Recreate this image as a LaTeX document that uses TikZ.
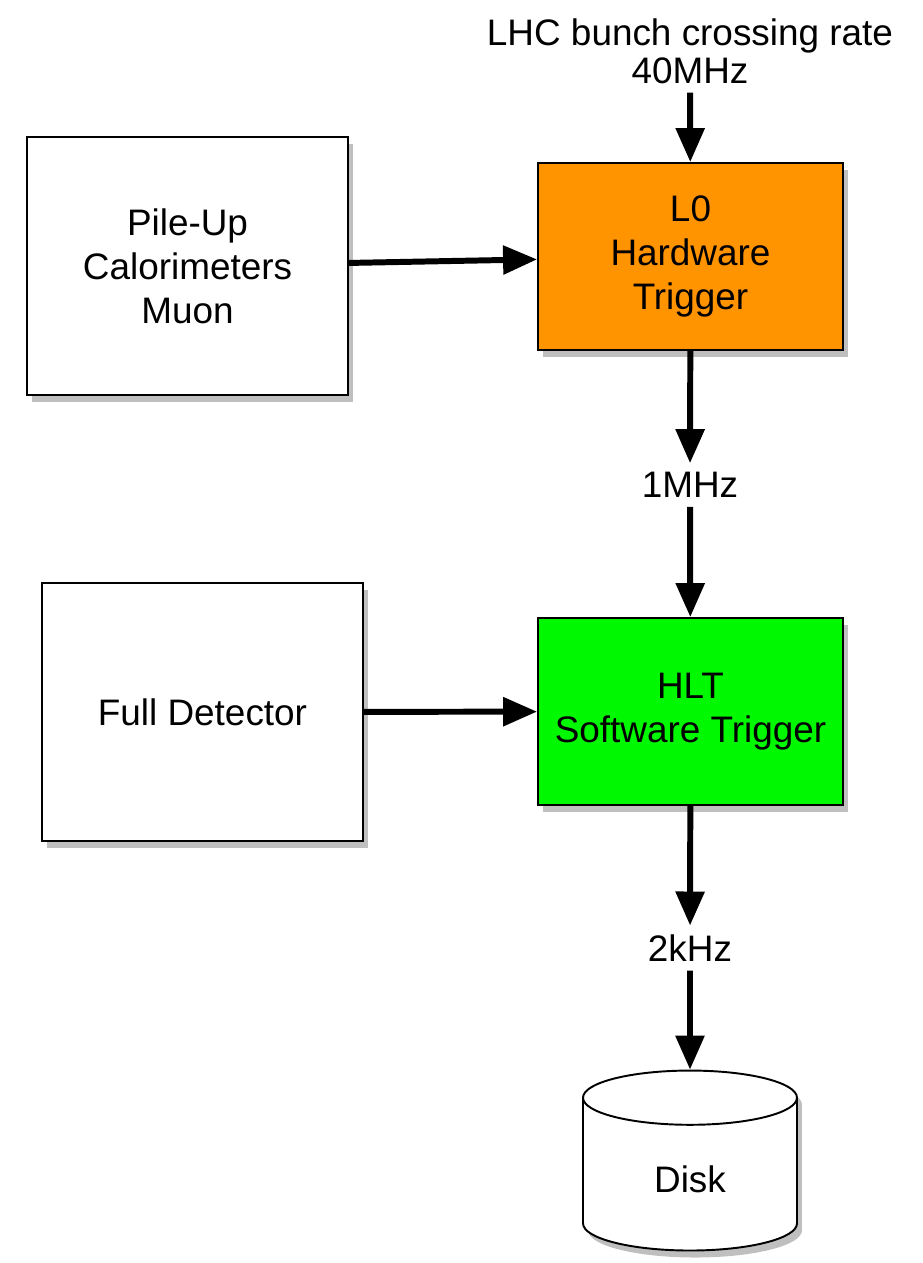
\documentclass[tikz,border=0pt]{standalone}
\usepackage{fontspec}
\setmainfont{Liberation Sans}
\usetikzlibrary{shapes,arrows.meta,shadows}
\definecolor{lzeroorange}{RGB}{255,147,0}
\definecolor{hltgreen}{RGB}{0,249,0}
\tikzstyle{block} = [rectangle, draw, line width=1.1pt, align=center,
    font=\fontsize{21}{25}\selectfont,
    drop shadow={opacity=0.5, shadow xshift=0.1cm, shadow yshift=-0.14cm}]
\tikzstyle{trigger} = [block, minimum width=6.1cm, minimum height=3.74cm]
\tikzstyle{source} = [block, fill=white, minimum width=6.42cm, minimum height=5.16cm]
\tikzstyle{rate} = [align=center, font=\fontsize{21}{21.6}\selectfont, inner sep=5pt]
\tikzstyle{disk} = [cylinder, shape border rotate=90, aspect=0.65, draw,
    line width=1.1pt, fill=white, font=\fontsize{21}{25}\selectfont,
    minimum width=4.28cm, minimum height=3.6cm,
    drop shadow={opacity=0.5, shadow xshift=0.1cm, shadow yshift=-0.14cm}]
\tikzstyle{arrow} = [draw, line width=3.4pt, -{Triangle[length=0.68cm, width=0.56cm]}]

\begin{document}
\begin{tikzpicture}[x=0.02cm, y=-0.02cm]
    \useasboundingbox (0,0) rectangle (922,1263);
    \node[rate] (lhc) at (690,51) {LHC bunch crossing rate\\40MHz};
    \node[trigger, fill=lzeroorange] (l0) at (690.5,256.5) {L0\\Hardware\\Trigger};
    \node[source] (pileup) at (187.5,266) {Pile-Up\\Calorimeters\\Muon};
    \node[rate] (r1) at (690,485) {1MHz};
    \node[trigger, fill=hltgreen] (hlt) at (690.5,711.5) {HLT\\Software Trigger};
    \node[source] (fulldet) at (202.5,712) {Full Detector};
    \node[rate] (r2) at (690,948) {2kHz};
    \node[disk] (disk) at (690,1179) {Disk};
    \path[arrow] (lhc) -- (l0);
    \path[arrow] (pileup) -- (l0);
    \path[arrow] (l0) -- (r1);
    \path[arrow] (r1) -- (hlt);
    \path[arrow] (fulldet) -- (hlt);
    \path[arrow] (hlt) -- (r2);
    \path[arrow] (r2) -- (disk);
\end{tikzpicture}
\end{document}
